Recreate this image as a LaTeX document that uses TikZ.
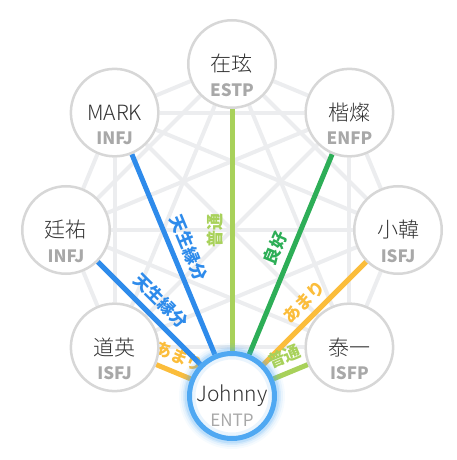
\documentclass[tikz,border=0pt]{standalone}
\usepackage{fontspec}
\setmainfont{Noto Sans CJK JP}
\newfontfamily\ligera{Noto Sans CJK JP Light}
\usetikzlibrary{backgrounds}

\definecolor{fondo}{HTML}{ECEDEF}
\definecolor{borde}{HTML}{D7D7D7}
\definecolor{nombre}{HTML}{333333}
\definecolor{tipo}{HTML}{A8A8A8}
\definecolor{azul}{HTML}{2E8BEB}
\definecolor{verde}{HTML}{2DAE57}
\definecolor{verdeclaro}{HTML}{A8D15A}
\definecolor{naranja}{HTML}{FBBD3B}
\definecolor{anillo}{HTML}{4FA8F2}

\tikzset{
  persona/.style={circle, draw=borde, line width=2.5pt, fill=white, minimum size=87.5pt,
    inner sep=0pt, text=nombre, font=\ligera\fontsize{21}{24}\selectfont},
  tipotxt/.style={text=tipo, font=\fontsize{17}{19}\selectfont\bfseries},
  malla/.style={fondo, line width=4pt},
  enlace/.style={line width=5pt},
  etiqueta/.style={midway, sloped, above, inner sep=6pt, font=\fontsize{17}{19}\selectfont\bfseries}
}

\begin{document}
\begin{tikzpicture}[x=1pt, y=1pt]
    \useasboundingbox (-232,-230) rectangle (224,230);

    % Miembros
    \node[persona] (jaehyun) at (90:166) {在玹};
    \node[persona] (haechan) at (45:166) {楷燦};
    \node[persona] (xiaojun) at (0:166) {小韓};
    \node[persona] (taeil) at (-45:166) {泰一};
    \node[persona] (doyoung) at (-135:166) {道英};
    \node[persona] (jungwoo) at (180:166) {廷祐};
    \node[persona] (mark) at (135:166) {MARK};

    % Johnny con brillo
    \foreach \r/\o in {53/0.05, 51/0.08, 49/0.12, 47.5/0.18}
      \fill[anillo, opacity=\o] (-90:166) circle (\r);
    \node[persona, draw=anillo, line width=5pt, minimum size=85pt] (johnny) at (-90:166) {Johnny};
    \draw[anillo, opacity=0.12, line width=4pt] (johnny.center) circle (38.5);

    % Tipos
    \node[tipotxt] (jaehyun-t) at ([yshift=-26pt]jaehyun.center) {ESTP};
    \node[tipotxt] (haechan-t) at ([yshift=-26pt]haechan.center) {ENFP};
    \node[tipotxt] (xiaojun-t) at ([yshift=-26pt]xiaojun.center) {ISFJ};
    \node[tipotxt] (taeil-t) at ([yshift=-26pt]taeil.center) {ISFP};
    \node[tipotxt] (doyoung-t) at ([yshift=-26pt]doyoung.center) {ISFJ};
    \node[tipotxt] (jungwoo-t) at ([yshift=-26pt]jungwoo.center) {INFJ};
    \node[tipotxt] (mark-t) at ([yshift=-26pt]mark.center) {INFJ};
    \node[tipotxt, font=\fontsize{17}{19}\selectfont] (johnny-t) at ([yshift=-24pt]johnny.center) {ENTP};

    \begin{pgfonlayer}{background}
      % Malla de fondo
      \foreach \a [count=\i] in {jaehyun,haechan,xiaojun,taeil,johnny,doyoung,jungwoo,mark}
        \foreach \b [count=\j] in {jaehyun,haechan,xiaojun,taeil,johnny,doyoung,jungwoo,mark}
          {\ifnum\i<\j \draw[malla] (\a) -- (\b);\fi}

      % Compatibilidad
      \draw[enlace, verdeclaro] (johnny) -- (jaehyun) node[etiqueta] {普通};
      \draw[enlace, verde] (johnny) -- (haechan) node[etiqueta] {良好};
      \draw[enlace, naranja] (johnny) -- (xiaojun) node[etiqueta] {あまり};
      \draw[enlace, verdeclaro] (johnny) -- (taeil) node[etiqueta] {普通};
      \draw[enlace, naranja] (johnny) -- (doyoung) node[etiqueta] {あまり};
      \draw[enlace, azul] (johnny) -- (jungwoo) node[etiqueta] {天生縁分};
      \draw[enlace, azul] (johnny) -- (mark) node[etiqueta] {天生縁分};
    \end{pgfonlayer}
\end{tikzpicture}
\end{document}
